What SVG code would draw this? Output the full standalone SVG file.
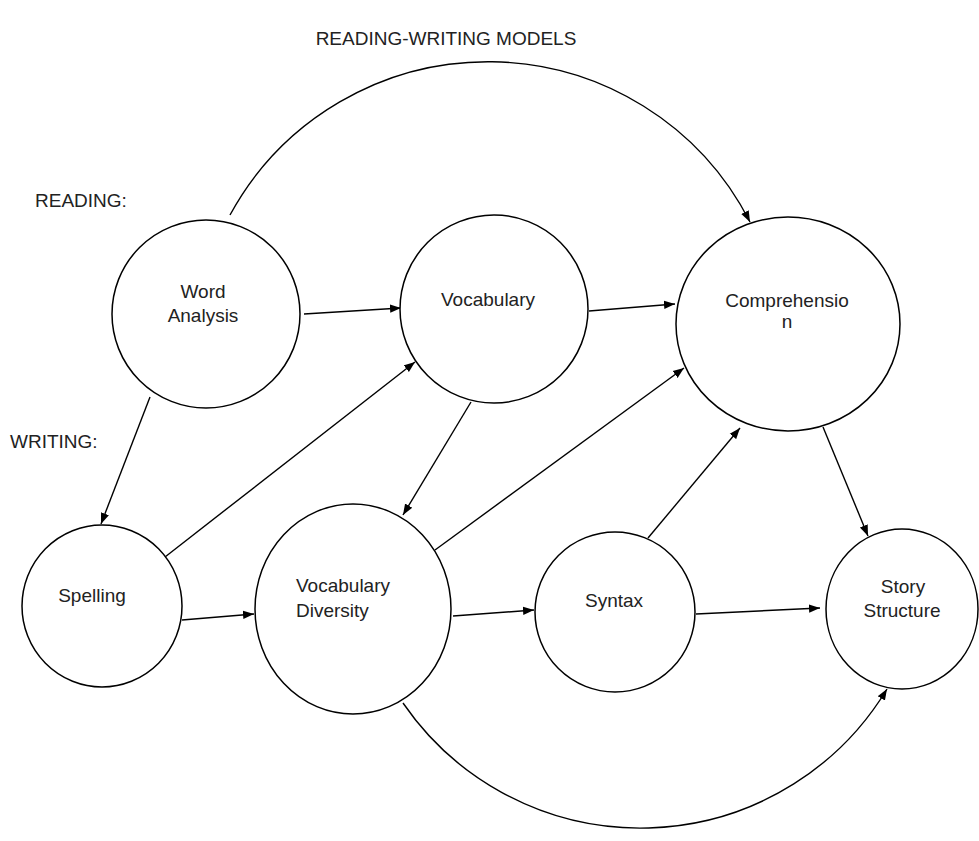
<svg xmlns="http://www.w3.org/2000/svg" width="979" height="841" viewBox="0 0 979 841">
<defs>
<marker id="ah" markerUnits="userSpaceOnUse" markerWidth="12" markerHeight="10" refX="11" refY="5" orient="auto">
<path d="M0,0.8 L11,5 L0,9.2 Z" fill="#000"/>
</marker>
<style>
.node{fill:#fff;stroke:#000;stroke-width:1.5}
.t{font-family:"Liberation Sans",Arial,sans-serif;font-size:19px;fill:#222}
.c{text-anchor:middle}
.e{fill:none;stroke:#000;stroke-width:1.4;marker-end:url(#ah)}
</style>
</defs>
<rect width="979" height="841" fill="#fff"/>
<text class="t c" x="446" y="45">READING-WRITING MODELS</text>
<text class="t" x="35" y="207">READING:</text>
<text class="t" x="10" y="448">WRITING:</text>
<g id="connectors">
<path class="e" d="M230,215 A294,294 0 0 1 750,222"/>
<path class="e" d="M403,703 A288,288 0 0 0 887,689"/>
<line class="e" x1="304" y1="314" x2="401" y2="308"/>
<line class="e" x1="589" y1="311" x2="675" y2="304"/>
<line class="e" x1="150" y1="397" x2="101" y2="524"/>
<line class="e" x1="165" y1="557" x2="415" y2="362"/>
<line class="e" x1="471" y1="402" x2="403" y2="515"/>
<line class="e" x1="435" y1="550" x2="684" y2="368"/>
<line class="e" x1="182" y1="620" x2="254" y2="614"/>
<line class="e" x1="453" y1="616" x2="534" y2="610"/>
<line class="e" x1="648" y1="538" x2="740" y2="428"/>
<line class="e" x1="696" y1="614" x2="820" y2="608"/>
<line class="e" x1="823" y1="427" x2="868" y2="536"/>
</g>
<g id="word-analysis">
<ellipse class="node" cx="206" cy="314" rx="94" ry="94"/>
<text class="t c" x="203" y="298">Word</text>
<text class="t c" x="203" y="322">Analysis</text>
</g>
<g id="vocabulary">
<ellipse class="node" cx="494" cy="309" rx="94" ry="94"/>
<text class="t c" x="488" y="306">Vocabulary</text>
</g>
<g id="comprehension">
<ellipse class="node" cx="788" cy="324" rx="112" ry="107"/>
<text class="t c" x="787" y="307">Comprehensio</text>
<text class="t c" x="787" y="328">n</text>
</g>
<g id="spelling">
<ellipse class="node" cx="102" cy="606" rx="80" ry="81"/>
<text class="t c" x="92" y="602">Spelling</text>
</g>
<g id="vocabulary-diversity">
<ellipse class="node" cx="353" cy="609" rx="98" ry="105"/>
<text class="t" x="296" y="592">Vocabulary</text>
<text class="t" x="296" y="617">Diversity</text>
</g>
<g id="syntax">
<ellipse class="node" cx="615" cy="612" rx="80" ry="80"/>
<text class="t c" x="614" y="607">Syntax</text>
</g>
<g id="story-structure">
<ellipse class="node" cx="902" cy="609" rx="76" ry="80"/>
<text class="t c" x="903" y="593">Story</text>
<text class="t c" x="902" y="617">Structure</text>
</g>
</svg>
